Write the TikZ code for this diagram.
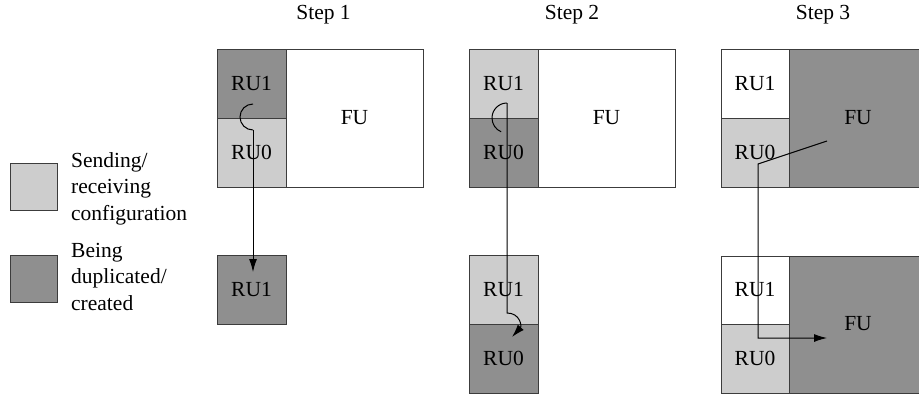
\documentclass[tikz,border=0pt]{standalone}
\usepackage{fontspec}
\setmainfont{Liberation Serif}
\usetikzlibrary{arrows.meta}

\definecolor{dupgray}{RGB}{143,143,143}
\definecolor{sendgray}{RGB}{205,205,205}
\definecolor{edgegray}{RGB}{60,60,60}

\tikzset{
  txt/.style={font=\fontsize{21.5}{26.5}\selectfont, text=black},
  cell/.style={txt, draw=edgegray, line width=1pt, inner sep=0pt,
    minimum width=69pt, minimum height=69pt},
  fucell/.style={cell, minimum width=137pt, minimum height=138pt},
  legsq/.style={draw=edgegray, line width=1pt, inner sep=0pt,
    minimum width=47pt, minimum height=47pt},
  legtext/.style={txt, align=left, inner sep=0pt, anchor=north west},
  flow/.style={draw=black, line width=1pt},
  tip/.style={-{Latex[length=13pt,width=8pt]}},
}

\begin{document}
\begin{tikzpicture}[x=1pt, y=-1pt]
\useasboundingbox (0,0) rectangle (919,394);
\clip (0,0) rectangle (919,394);

% column headings
\node[txt] (h1) at (323.5,15) {Step 1};
\node[txt] (h2) at (572,15) {Step 2};
\node[txt] (h3) at (823,15) {Step 3};

% legend
\node[legsq, fill=sendgray] (lsend) at (33.5,186.5) {};
\node[legtext] (lsendtxt) at (71,152) {Sending/\\receiving\\configuration};
\node[legsq, fill=dupgray] (ldup) at (33.5,278.5) {};
\node[legtext] (lduptxt) at (71,243) {Being\\duplicated/\\created};

% step 1
\node[fucell, fill=white] (a-fu) at (354.5,118) {FU};
\node[cell, fill=dupgray] (a-ru1) at (251.5,83.5) {RU1};
\node[cell, fill=sendgray] (a-ru0) at (251.5,152.5) {RU0};
\node[cell, fill=dupgray] (a-new) at (251.5,290) {RU1};

% step 2
\node[fucell, fill=white] (b-fu) at (606.5,118) {FU};
\node[cell, fill=sendgray] (b-ru1) at (503.5,83.5) {RU1};
\node[cell, fill=dupgray] (b-ru0) at (503.5,152.5) {RU0};
\node[cell, fill=sendgray] (b-new1) at (503.5,290) {RU1};
\node[cell, fill=dupgray] (b-new0) at (503.5,358.5) {RU0};

% step 3
\node[fucell, fill=dupgray, minimum width=145pt] (c-fu) at (861.5,118) {};
\node[txt] (c-fulbl) at (858,118) {FU};
\node[cell, fill=white, minimum width=68pt] (c-ru1) at (755,83.5) {RU1};
\node[cell, fill=sendgray, minimum width=68pt] (c-ru0) at (755,152.5) {RU0};
\node[fucell, fill=dupgray, minimum width=145pt, minimum height=137pt] (c-newfu) at (861.5,324.5) {};
\node[txt] (c-newfulbl) at (858,324) {FU};
\node[cell, fill=white, minimum width=68pt, minimum height=68pt] (c-new1) at (755,290) {RU1};
\node[cell, fill=sendgray, minimum width=68pt] (c-new0) at (755,358.5) {RU0};

% transfer paths (shifts are in page directions: negative yshift = downwards)
\coordinate (a-start) at ([xshift=1.5pt, yshift=-20.5pt]a-ru1.center);
\coordinate (a-turn)  at ([xshift=1.5pt, yshift=22.5pt]a-ru0.center);
\coordinate (a-end)   at ([xshift=1.5pt, yshift=-17pt]a-new.north);
\draw[flow] (a-start) arc[start angle=270, end angle=90, radius=13];
\draw[flow, tip] (a-turn) -- (a-end);

\coordinate (b-start) at ([xshift=3.5pt, yshift=-19.5pt]b-ru1.center);
\coordinate (b-bend)  at ([xshift=3.5pt, yshift=-23pt]b-new1.center);
\coordinate (b-end)   at ([xshift=8.5pt, yshift=21.5pt]b-new0.center);
\draw[flow] (b-start) arc[start angle=270, end angle=113, radius=15];
\draw[flow, tip] (b-start) -- (b-bend)
  .. controls ([xshift=13pt]b-bend) and ([xshift=15pt, yshift=-13pt]b-bend) .. (b-end);

\coordinate (c-start) at ([xshift=-31pt, yshift=-23pt]c-fulbl.center);
\coordinate (c-knee)  at ([xshift=3pt, yshift=-11.5pt]c-ru0.center);
\coordinate (c-down)  at ([xshift=3pt, yshift=-48pt]c-new1.center);
\coordinate (c-end)   at ([xshift=-31pt, yshift=-14pt]c-newfulbl.center);
\draw[flow, tip] (c-start) -- (c-knee) -- (c-down) -- (c-end);
\end{tikzpicture}
\end{document}
